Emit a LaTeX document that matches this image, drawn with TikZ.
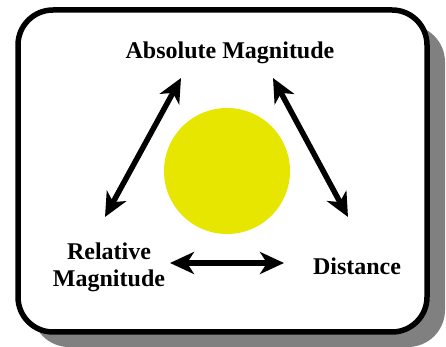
\documentclass[tikz,border=0pt]{standalone}
\usepackage{fontspec}
\setmainfont{Liberation Serif}
\usetikzlibrary{arrows.meta}
\definecolor{sunyellow}{RGB}{230,230,0}
\definecolor{shadowgray}{RGB}{128,128,128}
\begin{document}
\begin{tikzpicture}[x=1pt,y=1pt,
  lbl/.style={font=\fontsize{24}{27}\selectfont\bfseries, align=center, inner sep=0pt},
  conn/.style={line width=5.5pt, {Stealth[length=24pt,width=22pt,inset=7pt]}-{Stealth[length=24pt,width=22pt,inset=7pt]}}
]
\useasboundingbox (0,0) rectangle (446,347);
% shadow
\fill[shadowgray, rounded corners=37pt] (32,0) rectangle (445,322);
% frame
\draw[line width=5.5pt, fill=white, rounded corners=35pt] (18,15) rectangle (427,337);
% sun
\node[circle, fill=sunyellow, minimum size=126pt, inner sep=0pt] (sun) at (227,176) {};
% labels
\node[lbl] (abs) at (230,294) {Absolute Magnitude};
\node[lbl] (rel) at (109,80) {Relative\\Magnitude};
\node[lbl] (dist) at (357,81) {Distance};
% arrow end points
\coordinate (la) at (105,130);
\coordinate (lb) at (181,269);
\coordinate (ra) at (273,269);
\coordinate (rb) at (348,130);
\coordinate (ba) at (170,84);
\coordinate (bb) at (284,84);
\draw[conn] (la) -- (lb);
\draw[conn] (ra) -- (rb);
\draw[conn] (ba) -- (bb);
\end{tikzpicture}
\end{document}
